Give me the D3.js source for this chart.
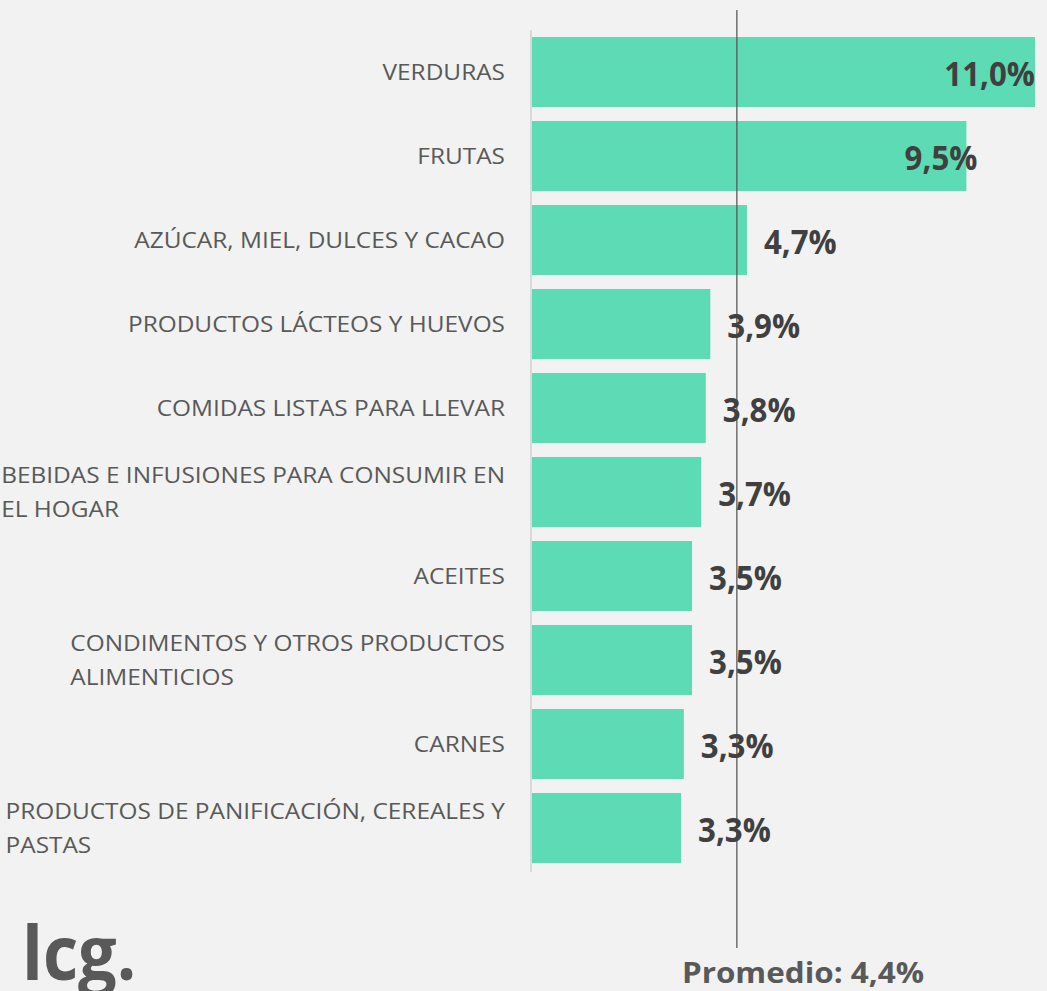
<!DOCTYPE html>
<html>
<head>
<meta charset="utf-8">
<script src="https://cdn.jsdelivr.net/npm/d3@7"></script>
<style>
  body { margin: 0; background: #f2f2f2; }
  svg { display: block; }
</style>
</head>
<body>
<div id="chart"></div>
<script>
// categories and values
let categories = [
  "VERDURAS",
  "FRUTAS",
  "AZÚCAR, MIEL, DULCES Y CACAO",
  "PRODUCTOS LÁCTEOS Y HUEVOS",
  "COMIDAS LISTAS PARA LLEVAR",
  "BEBIDAS E INFUSIONES PARA CONSUMIR EN EL HOGAR",
  "ACEITES",
  "CONDIMENTOS Y OTROS PRODUCTOS ALIMENTICIOS",
  "CARNES",
  "PRODUCTOS DE PANIFICACIÓN, CEREALES Y PASTAS"
];
let values = [11.0, 9.5, 4.7, 3.9, 3.8, 3.7, 3.5, 3.5, 3.32, 3.26];
let averageValue = 4.48;
let averageLabel = "Promedio: 4,4%";
let logoText = "lcg.";

let svgWidth = 1047;
let svgHeight = 991;

let svg = d3.select("#chart")
  .append("svg")
  .attr("width", svgWidth)
  .attr("height", svgHeight);

svg.append("rect")
  .attr("width", svgWidth)
  .attr("height", svgHeight)
  .attr("fill", "#f2f2f2");

let xScale = d3.scaleLinear()
  .domain([0, 11])
  .range([532, 1035]);

let yScale = d3.scaleBand()
  .domain(categories)
  .range([30, 870])
  .paddingInner(1 / 6)
  .paddingOuter(1 / 12);

let fmt = d => d3.format(".1f")(d).replace(".", ",") + "%";

// bars
svg.selectAll(".bar")
  .data(values)
  .enter().append("rect")
  .attr("class", "bar")
  .attr("x", xScale(0))
  .attr("y", (d, i) => yScale(categories[i]))
  .attr("width", d => xScale(d) - xScale(0))
  .attr("height", yScale.bandwidth())
  .attr("fill", "#5cdbb4");

// vertical axis line
svg.append("line")
  .attr("x1", xScale(0) - 1)
  .attr("x2", xScale(0) - 1)
  .attr("y1", 30)
  .attr("y2", 872)
  .attr("stroke", "#d9d9d9")
  .attr("stroke-width", 2);

// average line
svg.append("line")
  .attr("x1", xScale(averageValue))
  .attr("x2", xScale(averageValue))
  .attr("y1", 10)
  .attr("y2", 948)
  .attr("stroke", "#595959")
  .attr("stroke-width", 1.3);

// text styles (sx / sy stretch the glyphs toward the reference's proportions)
let labelStyle = { size: 22.4, weight: "normal", fill: "#595959", sx: 1.09, sy: 1 };
let valueStyle = { size: 33.6, weight: "bold", fill: "#404040", sx: 0.93, sy: 1 };
let avgStyle = { size: 24, weight: "bold", fill: "#595959", sx: 1.31, sy: 1.17 };
let logoStyle = { size: 64, weight: "bold", fill: "#595959", sx: 1.07, sy: 1.18 };

function addText(str, style, x, y) {
  return svg.append("text")
    .attr("font-family", "'Open Sans', sans-serif")
    .attr("font-size", style.size + "px")
    .attr("font-weight", style.weight)
    .attr("fill", style.fill)
    .attr("transform", `translate(${x},${y}) scale(${style.sx},${style.sy})`)
    .text(str);
}

// measure width of a string in a style (after stretch)
function measure(str, style) {
  let t = addText(str, style, 0, -100);
  let w = t.node().getComputedTextLength() * style.sx;
  t.remove();
  return w;
}

// category labels, wrapped and right aligned as a block
let maxLabelWidth = 512;

function wrap(text) {
  let words = text.split(" ");
  let lines = [];
  let line = "";
  words.forEach(w => {
    let test = line ? line + " " + w : w;
    if (measure(test, labelStyle) > maxLabelWidth && line) {
      lines.push(line);
      line = w;
    } else {
      line = test;
    }
  });
  lines.push(line);
  return lines;
}

categories.forEach(function(c) {
  let lines = wrap(c);
  let blockWidth = d3.max(lines, l => measure(l, labelStyle));
  let cy = yScale(c) + yScale.bandwidth() / 2;
  let lineH = 34;
  lines.forEach(function(l, j) {
    let ly = cy + (j - (lines.length - 1) / 2) * lineH + 8;
    addText(l, labelStyle, 505 - blockWidth, ly);
  });
});

// value labels
values.forEach(function(v, i) {
  let label = fmt(v);
  let w = measure(label, valueStyle);
  let end = xScale(v);
  let x = end + 17;
  if (x + w > 1040) x = Math.min(end + 11, 1035) - w;
  addText(label, valueStyle, x, yScale(categories[i]) + yScale.bandwidth() / 2 + 14);
});

// average label
let avgW = measure(averageLabel, avgStyle);
addText(averageLabel, avgStyle, 803 - avgW / 2, 983);

// logo
addText(logoText, logoStyle, 22, 980);
</script>
</body>
</html>
